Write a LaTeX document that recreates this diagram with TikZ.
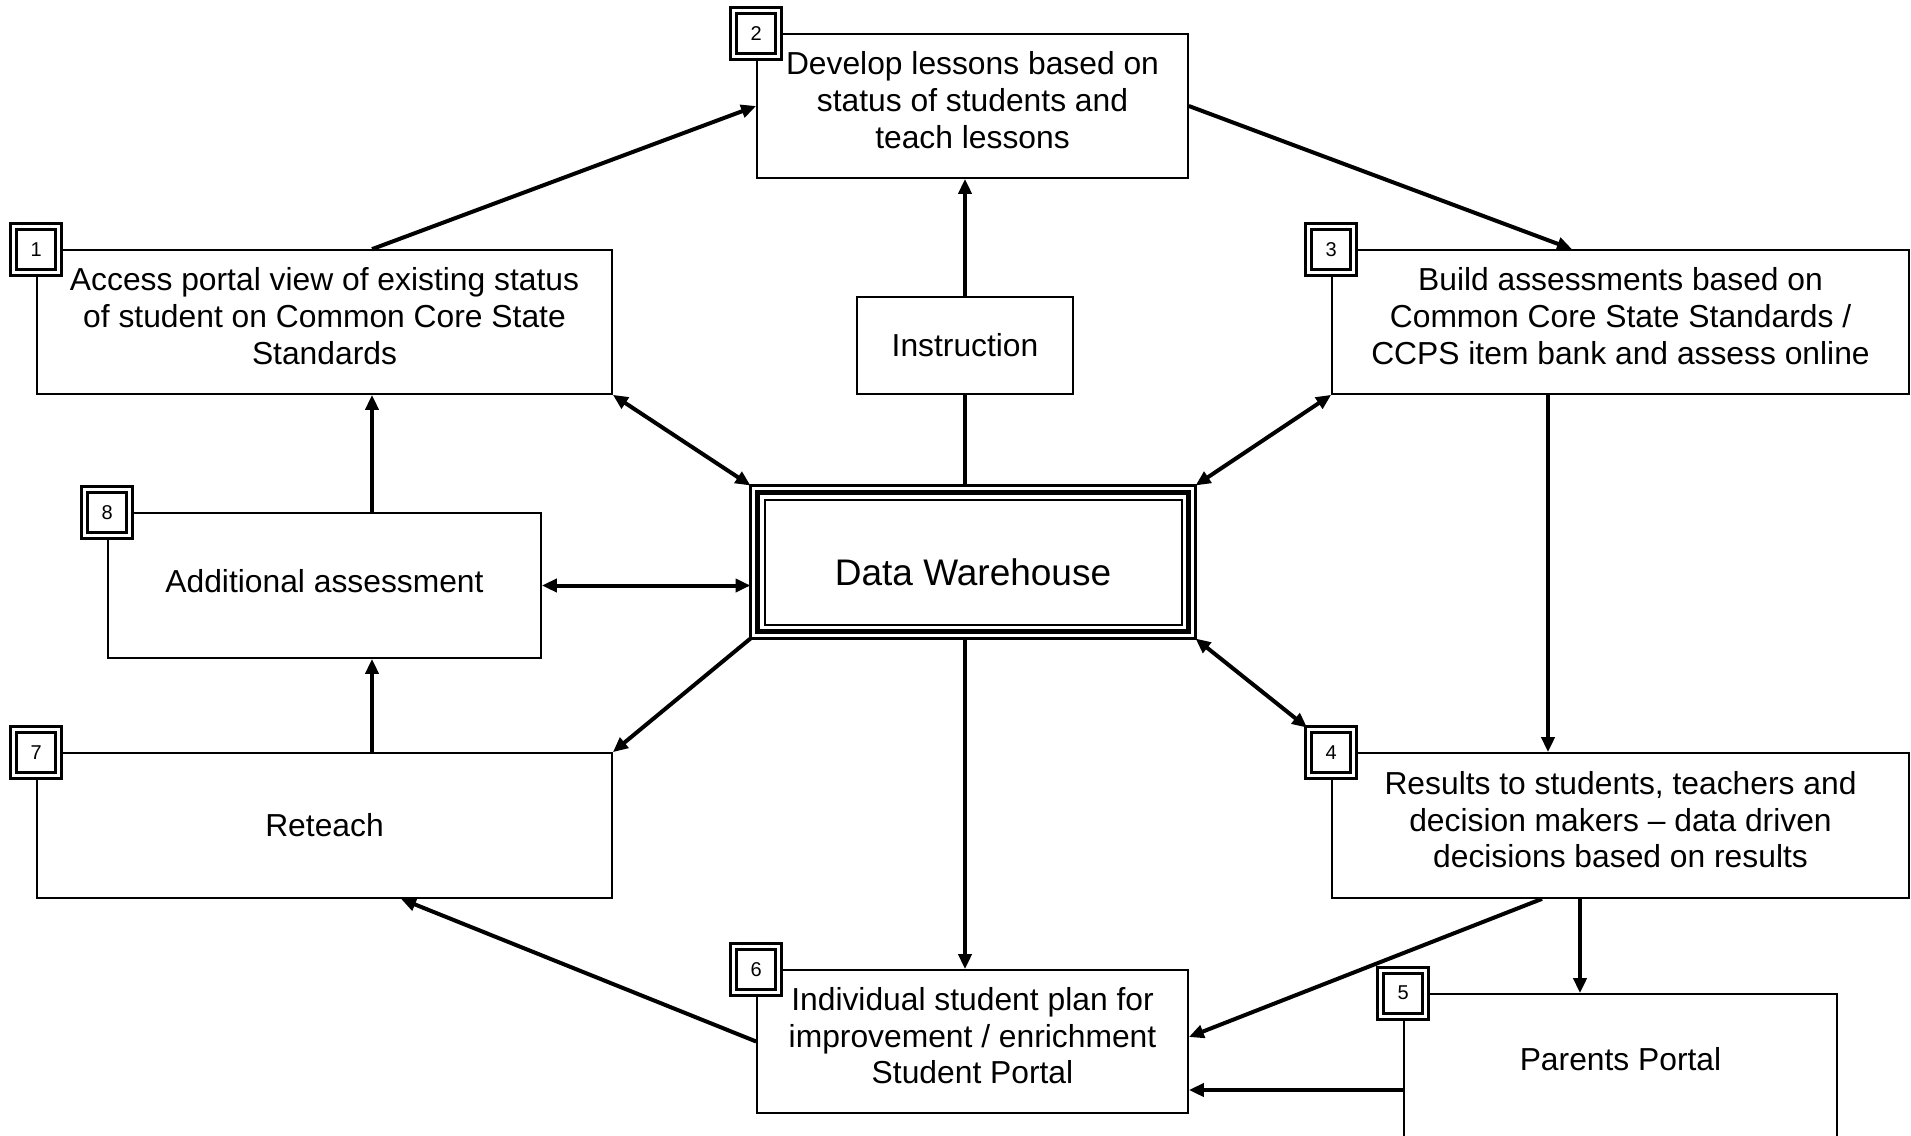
\documentclass[tikz,border=0pt]{standalone}
\usepackage{fontspec}
\setmainfont{Liberation Sans}
\usepackage{tikz}
\usetikzlibrary{arrows.meta}

\begin{document}
\begin{tikzpicture}[x=0.5pt, y=-0.5pt,
    >={Triangle[length=7.5pt, width=6.5pt]},
    stepbox/.style={draw, line width=0.85pt, inner sep=0pt, align=center,
        font=\fontsize{15.9}{18.3}\selectfont},
    threelines/.style={text depth=6pt},
    numbox/.style={draw, fill=white, double, double distance=1.5pt, line width=1.5pt,
        minimum width=22.5pt, minimum height=23pt, inner sep=0pt,
        font=\fontsize{10}{12}\selectfont},
    flow/.style={line width=2pt}]
    \useasboundingbox (0,0) rectangle (1911,1135);

    % steps round the warehouse
    \node[stepbox, threelines, minimum width=287.5pt, minimum height=72pt]
        (b1) at (324.5,322) {Access portal view of existing status\\of student on Common Core State\\Standards};
    \node[stepbox, threelines, minimum width=215.5pt, minimum height=72pt]
        (b2) at (972.5,106) {Develop lessons based on\\status of students and\\teach lessons};
    \node[stepbox, threelines, minimum width=288.5pt, minimum height=72pt]
        (b3) at (1620.5,322) {Build assessments based on\\Common Core State Standards /\\CCPS item bank and assess online};
    \node[stepbox, threelines, minimum width=288.5pt, minimum height=72.5pt]
        (b4) at (1620.5,825.5) {Results to students, teachers and\\decision makers \textendash{} data driven\\decisions based on results};
    \node[stepbox, text depth=7.4pt, minimum width=216.5pt, minimum height=72pt]
        (b5) at (1620.5,1066) {Parents Portal};
    \node[stepbox, threelines, minimum width=215.5pt, minimum height=71.5pt]
        (b6) at (972.5,1041.5) {Individual student plan for\\improvement / enrichment\\Student Portal};
    \node[stepbox, minimum width=287.5pt, minimum height=72.5pt]
        (b7) at (324.5,825.5) {Reteach};
    \node[stepbox, text depth=4.9pt, minimum width=216.5pt, minimum height=72.5pt]
        (b8) at (324.5,585.5) {Additional assessment};
    \node[stepbox, minimum width=108pt, minimum height=48.5pt]
        (instr) at (965,345.5) {Instruction};

    % data warehouse, triple frame
    \node[draw, line width=1.25pt, minimum width=222.5pt, minimum height=76.5pt, inner sep=0pt, outer sep=0pt,
        text height=23.5pt, text depth=0pt, font=\fontsize{18.5}{21}\selectfont] (dw) at (973,562) {Data Warehouse};
    \draw[line width=2.5pt] ([shift={(3.5pt,-3.5pt)}]dw.north west) rectangle ([shift={(-3.5pt,3.5pt)}]dw.south east);
    \draw[line width=1pt] ([shift={(7pt,-7pt)}]dw.north west) rectangle ([shift={(-7pt,7pt)}]dw.south east);

    % step numbers
    \node[numbox] (n1) at (b1.north west) {1};
    \node[numbox] (n2) at (b2.north west) {2};
    \node[numbox] (n3) at (b3.north west) {3};
    \node[numbox] (n4) at (b4.north west) {4};
    \node[numbox] (n5) at (b5.north west) {5};
    \node[numbox] (n6) at (b6.north west) {6};
    \node[numbox] (n7) at (b7.north west) {7};
    \node[numbox] (n8) at (b8.north west) {8};

    % flow
    \draw[->, flow] ([xshift=23.75pt]b1.north) -- (b2.west);
    \draw[->, flow] (b2.east) -- ([xshift=-24.25pt]b3.north);
    \draw[->, flow] (instr.north) -- (instr.north |- b2.south);
    \draw[flow] (instr.south) -- (instr.south |- dw.north);
    \draw[<->, flow] (b1.south east) -- (dw.north west);
    \draw[<->, flow] (b3.south west) -- (dw.north east);
    \draw[<->, flow] (b8.east) -- (b8.east -| dw.west);
    \draw[->, flow] (dw.south west) -- (b7.north east);
    \draw[<->, flow] (dw.south east) -- (n4.north west);
    \draw[->, flow] (instr.south |- dw.south) -- (instr.south |- b6.north);
    \draw[->, flow] ([xshift=-36.25pt]b3.south) -- ([xshift=-36.25pt]b4.north);
    \draw[->, flow] ([xshift=-39.25pt]b4.south) -- ([yshift=2.25pt]b6.east);
    \draw[->, flow] ([xshift=-20.25pt]b4.south) -- ([xshift=-20.25pt]b5.north);
    \draw[->, flow] ([yshift=-12pt]b5.west) -- ([yshift=-12pt]b5.west -| b6.east);
    \draw[->, flow] (b6.west) -- ([xshift=38.25pt]b7.south);
    \draw[->, flow] ([xshift=23.75pt]b7.north) -- ([xshift=23.75pt]b8.south);
    \draw[->, flow] ([xshift=23.75pt]b8.north) -- ([xshift=23.75pt]b1.south);
\end{tikzpicture}
\end{document}
